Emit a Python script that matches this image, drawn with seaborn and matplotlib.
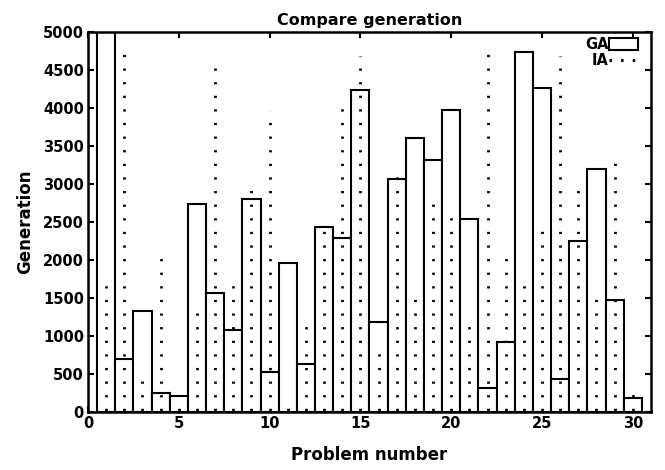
import numpy as np
import pandas as pd
import matplotlib
matplotlib.use("Agg")
import matplotlib.pyplot as plt
import seaborn as sns
from matplotlib.patches import Patch
from matplotlib.lines import Line2D

# Datos (30 problemas)
problemas = list(range(1, 31))
generacion_ga = [5300, 700, 1330, 255, 210, 2740, 1560, 1080, 2800, 530,
                 1960, 630, 2430, 2290, 4240, 1180, 3070, 3600, 3320, 3975,
                 2540, 310, 925, 4730, 4260, 430, 2255, 3200, 1475, 180]
generacion_ia = [1770, 4720, 470, 2110, 80, 1360, 4520, 1750, 3020, 3960,
                 80, 1190, 2470, 4120, 4680, 820, 3190, 1550, 2840, 2640,
                 1190, 4860, 2080, 1720, 2460, 4680, 3015, 1545, 3380, 260]
ticks_x = [0, 5, 10, 15, 20, 25, 30]
ticks_y = list(range(0, 5001, 500))

datos = pd.DataFrame({"Problema": problemas, "GA": generacion_ga, "IA": generacion_ia})

sns.set_style("ticks")
plt.rcParams["font.family"] = ["DejaVu Sans"]
plt.rcParams.update({"text.color": "black", "axes.labelcolor": "black",
                     "xtick.color": "black", "ytick.color": "black",
                     "axes.edgecolor": "black"})

fig = plt.figure(figsize=(6.65, 4.70), dpi=100)
ax = fig.add_axes([0.1323, 0.1234, 0.8466, 0.8086])

# Barras GA (blancas con borde negro)
sns.barplot(data=datos, x="Problema", y="GA", native_scale=True, width=1,
            color="white", saturation=1, edgecolor="black", linewidth=1.5,
            errorbar=None, ax=ax, zorder=2)

# IA como lineas punteadas verticales
estilo_ia = (4.36, (0.8, 4.1))
ax.vlines(datos["Problema"], 0, datos["IA"], colors="black",
          linestyles=[estilo_ia], linewidth=2.0, zorder=3)

ax.set_xlim(0, 31)
ax.set_ylim(0, 5000)
ax.set_xticks(ticks_x)
ax.set_yticks(ticks_y)
ax.tick_params(direction="in", top=True, right=True, length=4, width=1.5,
               labelsize=10.5, pad=3)
for etiqueta in ax.get_xticklabels() + ax.get_yticklabels():
    etiqueta.set_fontweight("bold")
for lado in ax.spines.values():
    lado.set_linewidth(1.8)

ax.set_title("Compare generation", fontsize=11.5, fontweight="bold", pad=5)
ax.set_xlabel("Problem number", fontsize=12, fontweight="bold", labelpad=11)
ax.set_ylabel("Generation", fontsize=12, fontweight="bold", labelpad=6)

# Leyenda
manejadores = [Patch(facecolor="white", edgecolor="black", linewidth=1.5),
               Line2D([0], [0], color="black", linestyle=(0, (0.8, 3.0)), linewidth=2.2)]
ax.legend(manejadores, ["GA", "IA"], loc="upper right", frameon=False,
          bbox_to_anchor=(0.98, 0.99), markerfirst=False, handlelength=2.0,
          handleheight=0.85, handletextpad=0.05, labelspacing=0.05,
          borderaxespad=0, borderpad=0.1, prop={"weight": "bold", "size": 10.5})

fig.savefig("out.png", dpi=100)
